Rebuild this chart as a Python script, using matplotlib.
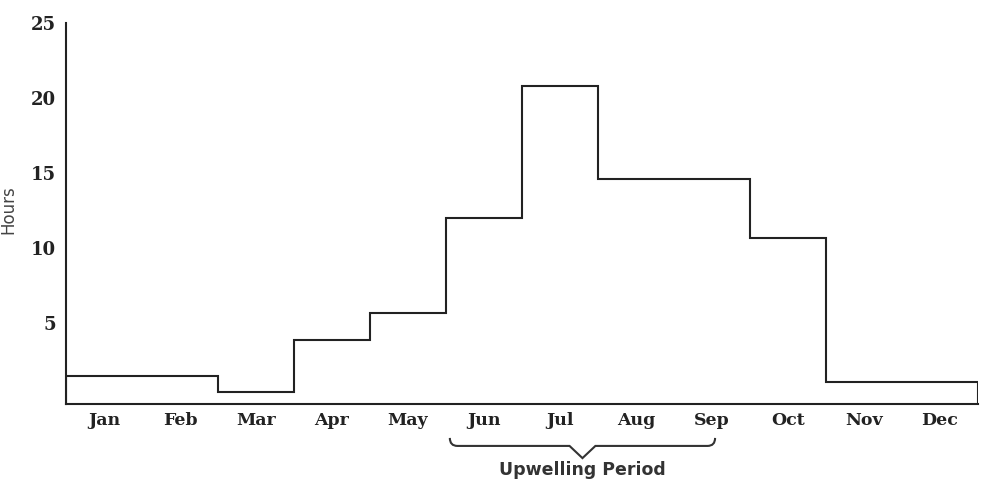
import numpy as np
import matplotlib.pyplot as plt
from matplotlib.path import Path
from matplotlib.patches import PathPatch

months = ['Jan', 'Feb', 'Mar', 'Apr', 'May', 'Jun', 'Jul', 'Aug', 'Sep', 'Oct', 'Nov', 'Dec']
hours = [1.5, 1.5, 0.4, 3.9, 5.7, 12.0, 20.8, 14.6, 14.6, 10.7, 1.1, 1.1]
yticks = [5, 10, 15, 20, 25]
upwelling = ('Jun', 'Sep')

fig = plt.figure(figsize=(9.81, 4.87), dpi=100)
ax = fig.add_axes([0.0673, 0.1704, 0.9297, 0.7824])

ymin, ymax = -0.4, 24.4
edges = np.arange(len(months) + 1)
ax.stairs(hours, edges, baseline=ymin, color='#222222', linewidth=1.5)

ax.set_xlim(0, len(months))
ax.set_ylim(ymin, ymax)
ax.set_xticks(edges[:-1] + 0.5)
ax.set_xticklabels(months)
ax.set_yticks(yticks)
ax.tick_params(length=0, labelsize=12.5, pad=6)
ax.tick_params(axis='y', labelsize=13, pad=7)
for lab in ax.get_xticklabels() + ax.get_yticklabels():
    lab.set_fontfamily('DejaVu Serif')
    lab.set_fontweight('bold')
    lab.set_color('#222222')
for lab in ax.get_yticklabels():
    lab.set_clip_on(False)

for s in ['top', 'right']:
    ax.spines[s].set_visible(False)
for s in ['left', 'bottom']:
    ax.spines[s].set_color('#222222')
    ax.spines[s].set_linewidth(1.5)

# brace under the upwelling months (Jun .. middle of Sep)
i0 = months.index(upwelling[0]) + 0.05
i1 = months.index(upwelling[1]) + 0.54
mid = (i0 + i1) / 2
trans = ax.get_xaxis_transform()
y_top, y_mid, y_tip = -0.089, -0.11, -0.142
verts = [(i0, y_top), (i0, y_mid), (i0 + 0.1, y_mid),
         (mid - 0.17, y_mid), (mid, y_tip),
         (mid + 0.17, y_mid), (i1 - 0.1, y_mid), (i1, y_mid), (i1, y_top)]
codes = [Path.MOVETO, Path.CURVE3, Path.CURVE3,
         Path.LINETO, Path.LINETO,
         Path.LINETO, Path.LINETO, Path.CURVE3, Path.CURVE3]
ax.add_patch(PathPatch(Path(verts, codes), transform=trans, fill=False,
                       edgecolor='#333333', linewidth=1.5, clip_on=False))
ax.text(mid, -0.172, 'Upwelling Period', transform=trans, ha='center', va='center',
        fontsize=12.5, fontweight='bold', color='#333333', family='DejaVu Sans')

fig.text(0.009, 0.57, 'Hours', rotation=90, ha='center', va='center',
         fontsize=12, color='#444444', family='DejaVu Sans')

fig.savefig('out.png', dpi=100)
